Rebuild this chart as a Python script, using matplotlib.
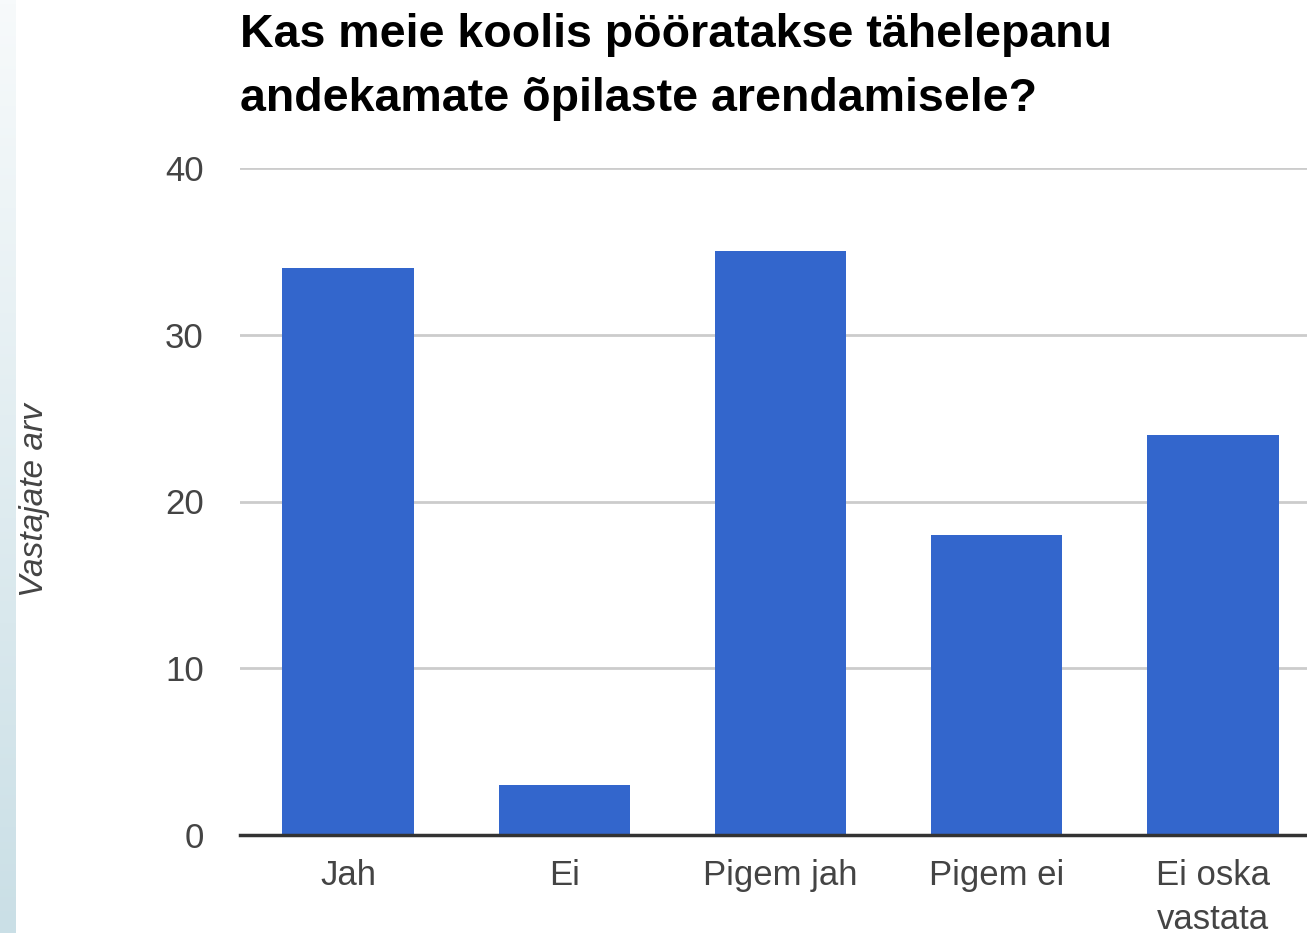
import numpy as np
import matplotlib.pyplot as plt
from matplotlib.colors import LinearSegmentedColormap

# Datos
kategooriad = ["Jah", "Ei", "Pigem jah", "Pigem ei", "Ei oska\nvastata"]
vastajad = [34, 3, 35, 18, 24]
y_ticks = [0, 10, 20, 30, 40]

plt.rcParams["font.family"] = ["Liberation Sans", "DejaVu Sans"]

fig = plt.figure(figsize=(13.07, 9.33), dpi=100)

# franja de fondo a la izquierda (degradado)
bg = fig.add_axes([0, 0, 15 / 1307, 1])
grad = np.linspace(0, 1, 256).reshape(-1, 1)
cmap = LinearSegmentedColormap.from_list("bg", ["#f7fafb", "#cadfe6"])
bg.imshow(grad, aspect="auto", cmap=cmap, extent=[0, 1, 0, 1], origin="upper")
bg.axis("off")

ax = fig.add_axes([240 / 1307, 98 / 933, 1081 / 1307, 667 / 933])
x = np.arange(len(kategooriad))
ax.bar(x, vastajad, width=0.607, color="#3366cc", zorder=3)

ax.set_xlim(-0.5, 4.5)
ax.set_ylim(0, 40)
ax.set_yticks(y_ticks)
ax.set_xticks(x)
ax.set_xticklabels(kategooriad, fontsize=25, color="#444444", linespacing=1.45, va="top")
ax.tick_params(axis="y", length=0, pad=26, labelsize=25, labelcolor="#444444")
ax.tick_params(axis="x", length=0, pad=17)
ax.grid(axis="y", color="#cccccc", linewidth=2, zorder=0)
for s in ["top", "right", "left"]:
    ax.spines[s].set_visible(False)
ax.spines["bottom"].set_color("#333333")
ax.spines["bottom"].set_linewidth(2.5)
ax.spines["bottom"].set_zorder(4)

fig.text(35 / 1307, 1 - 500 / 933, "Vastajate arv", fontsize=24, style="italic",
         color="#444444", rotation=90, ha="center", va="center")

fig.text(240 / 1307, 1 - 13 / 933,
         "Kas meie koolis pööratakse tähelepanu\nandekamate õpilaste arendamisele?",
         fontsize=33.5, fontweight="bold", color="#000000", ha="left", va="top",
         linespacing=1.6)

fig.savefig("out.png", dpi=100)
